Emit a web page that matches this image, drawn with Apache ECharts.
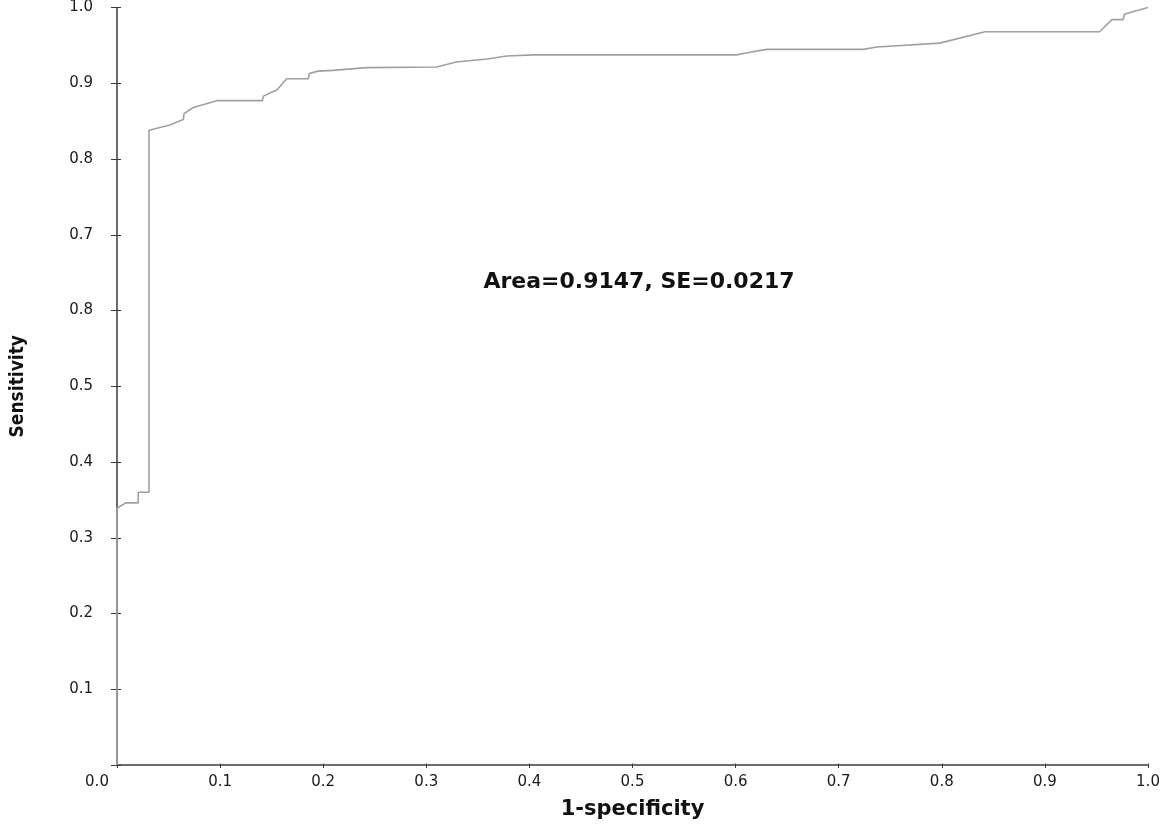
<!DOCTYPE html>
<html>
<head>
<meta charset="utf-8">
<script src="https://cdn.jsdelivr.net/npm/echarts@6/dist/echarts.min.js"></script>
<style>
html,body{margin:0;padding:0;background:#fff;}
#chart{width:1166px;height:825px;}
</style>
</head>
<body>
<div id="chart"></div>
<script>
// 1 - specificity (false positive rate)
const fpr = [0, 0, 0.0084, 0.0206, 0.0206, 0.031, 0.031, 0.0514, 0.0643, 0.065, 0.074, 0.0967, 0.141, 0.142, 0.150, 0.155, 0.1646, 0.1856, 0.1865, 0.195, 0.2095, 0.242, 0.310, 0.329, 0.359, 0.378, 0.404, 0.601, 0.614, 0.630, 0.7236, 0.737, 0.798, 0.842, 0.953, 0.965, 0.976, 0.977, 0.9825, 1.0];
// sensitivity (true positive rate)
const sensitivity = [0, 0.339, 0.346, 0.346, 0.360, 0.360, 0.838, 0.845, 0.852, 0.860, 0.868, 0.877, 0.877, 0.883, 0.888, 0.891, 0.906, 0.906, 0.913, 0.916, 0.917, 0.9206, 0.9215, 0.928, 0.932, 0.936, 0.9375, 0.9375, 0.941, 0.9447, 0.9447, 0.9478, 0.953, 0.968, 0.968, 0.984, 0.984, 0.991, 0.9935, 1.0];
const xTickLabels = ["0.0", "0.1", "0.2", "0.3", "0.4", "0.5", "0.6", "0.7", "0.8", "0.9", "1.0"];
const yTickLabels = ["0.0", "0.1", "0.2", "0.3", "0.4", "0.5", "0.8", "0.7", "0.8", "0.9", "1.0"];
const xTitle = "1-specificity";
const yTitle = "Sensitivity";
const annotation = "Area=0.9147, SE=0.0217";

const chart = echarts.init(document.getElementById('chart'));
const W = 1166, H = 825;
const gridRect = {left: 117, right: 18, top: 7, bottom: 58};
const gridW = W - gridRect.left - gridRect.right;
const gridH = H - gridRect.top - gridRect.bottom;
const axisColor = '#3a3a3a';
const labelFont = {fontFamily: 'DejaVu Sans', fontSize: 15, color: '#1a1a1a'};

function idx(v) { return Math.round(v * 10); }

const option = {
  animation: false,
  backgroundColor: '#ffffff',
  grid: [gridRect],
  xAxis: [
    {
      type: 'value', min: 0, max: 1, interval: 0.1, position: 'bottom',
      splitLine: {show: false},
      axisLine: {show: true, onZero: false, lineStyle: {color: axisColor, width: 1.5}},
      axisTick: {show: true, length: 3, lineStyle: {color: axisColor}},
      axisLabel: Object.assign({
        margin: 10,
        showMinLabel: true, showMaxLabel: true,
        formatter: function (v) {
          const i = idx(v);
          if (i === 0) return '{z|' + xTickLabels[0] + '}';
          return xTickLabels[i];
        },
        rich: {z: {fontFamily: 'DejaVu Sans', fontSize: 15, color: '#1a1a1a', padding: [0, 40, 0, 0]}}
      }, labelFont),
      name: xTitle,
      nameLocation: 'middle',
      nameGap: 34,
      nameTextStyle: {fontFamily: 'DejaVu Sans', fontWeight: 'bold', fontSize: 21, color: '#111'}
    },
    {
      // mirror axis placed on the bottom edge to draw the inner half of each tick
      type: 'value', min: 0, max: 1, interval: 0.1, position: 'top', offset: -gridH,
      splitLine: {show: false},
      axisLine: {show: false, onZero: false},
      axisTick: {show: true, length: 4, lineStyle: {color: axisColor, width: 1}},
      axisLabel: {show: false}
    }
  ],
  yAxis: [
    {
      type: 'value', min: 0, max: 1, interval: 0.1, position: 'left',
      splitLine: {show: false},
      axisLine: {show: true, onZero: false, lineStyle: {color: axisColor, width: 1.5}},
      axisTick: {show: true, length: 6, lineStyle: {color: axisColor}},
      axisLabel: Object.assign({
        margin: 24,
        formatter: function (v) {
          const i = idx(v);
          if (i === 0) return '';
          return yTickLabels[i];
        }
      }, labelFont),
      name: yTitle,
      nameLocation: 'middle',
      nameRotate: 90,
      nameGap: 89,
      nameTextStyle: {fontFamily: 'DejaVu Sans Condensed, Liberation Sans Narrow, DejaVu Sans', fontWeight: 'bold', fontSize: 19, color: '#111'}
    },
    {
      // mirror axis placed on the left edge to draw the inner half of each tick
      type: 'value', min: 0, max: 1, interval: 0.1, position: 'right', offset: -gridW,
      splitLine: {show: false},
      axisLine: {show: false, onZero: false},
      axisTick: {show: true, length: 4, lineStyle: {color: axisColor, width: 1}},
      axisLabel: {show: false}
    }
  ],
  series: [
    {
      type: 'line',
      xAxisIndex: 0, yAxisIndex: 0,
      data: fpr.map((x, i) => [x, sensitivity[i]]),
      showSymbol: false,
      clip: false,
      z: 10,
      lineStyle: {color: '#a0a0a0', width: 1.6},
      itemStyle: {color: '#a0a0a0'}
    }
  ],
  graphic: [
    {
      type: 'text',
      x: 639,
      y: 282,
      z: 20,
      style: {
        text: annotation,
        fontFamily: 'DejaVu Sans',
        fontWeight: 'bold',
        fontSize: 22,
        fill: '#111',
        align: 'center',
        verticalAlign: 'middle'
      }
    }
  ]
};
chart.setOption(option);
</script>
</body>
</html>
